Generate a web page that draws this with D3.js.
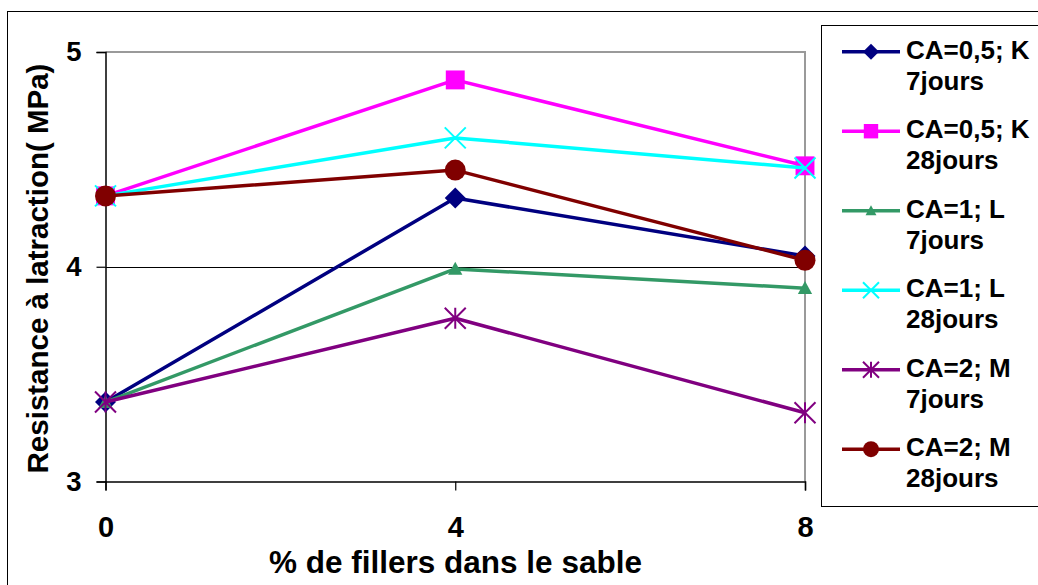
<!DOCTYPE html>
<html>
<head>
<meta charset="utf-8">
<script src="https://cdn.jsdelivr.net/npm/d3@7"></script>
<style>
  html, body { margin: 0; padding: 0; background: #fff; }
  svg { display: block; font-family: "Liberation Sans", Arial, sans-serif; font-weight: bold; }
</style>
</head>
<body>
<svg id="chart" width="1038" height="585"></svg>
<script>
// Filler content (% in sand) on the x axis
const fillers = [0, 4, 8];
const yTicks = [3, 4, 5];

// Tensile strength (MPa) per mix
const k7  = [3.37, 4.32, 4.05];
const k28 = [4.33, 4.87, 4.47];
const l7  = [3.37, 3.99, 3.90];
const l28 = [4.33, 4.60, 4.46];
const m7  = [3.37, 3.76, 3.32];
const m28 = [4.33, 4.45, 4.03];

const seriesNames = [
  ["CA=0,5; K", "7jours"],
  ["CA=0,5; K", "28jours"],
  ["CA=1; L", "7jours"],
  ["CA=1; L", "28jours"],
  ["CA=2; M", "7jours"],
  ["CA=2; M", "28jours"]
];
const seriesValues = [k7, k28, l7, l28, m7, m28];
const seriesColors = ["#000080", "#FF00FF", "#339966", "#00FFFF", "#800080", "#800000"];
const seriesMarkers = ["diamond", "square", "triangle", "cross", "star", "circle"];

const svg = d3.select("#chart");

const x = d3.scaleLinear().domain([0, 8]).range([105.5, 805]);
const y = d3.scaleLinear().domain([3, 5]).range([481.5, 52]);

// Outer chart frame
svg.append("rect")
  .attr("x", 7.5).attr("y", 11.5)
  .attr("width", 1100).attr("height", 700)
  .attr("fill", "none").attr("stroke", "#000").attr("stroke-width", 1);

// Gridline at 4
svg.append("line")
  .attr("x1", x(0)).attr("x2", x(8))
  .attr("y1", Math.round(y(4)) + 0.5).attr("y2", Math.round(y(4)) + 0.5)
  .attr("stroke", "#000").attr("stroke-width", 1);

// Plot area border (top and right)
svg.append("path")
  .attr("d", `M${x(0)},${y(5)}H${x(8)}V${y(3)}`)
  .attr("fill", "none").attr("stroke", "#9a9a9a").attr("stroke-width", 2);

// Y axis
const yAxis = svg.append("g")
  .attr("transform", `translate(${x(0)},0)`)
  .call(d3.axisLeft(y).tickValues(yTicks).tickSize(9).tickPadding(15).tickFormat(d3.format("d")));
yAxis.select(".domain").attr("stroke", "#000").attr("stroke-width", 1.5);
yAxis.selectAll(".tick line").attr("stroke", "#000").attr("stroke-width", 1.2);
yAxis.selectAll("text").attr("font-size", 27.5).attr("font-weight", "bold")
  .attr("font-family", "Liberation Sans, Arial, sans-serif").attr("fill", "#000");

// X axis
const xAxis = svg.append("g")
  .attr("transform", `translate(0,${y(3)})`)
  .call(d3.axisBottom(x).tickValues(fillers).tickSize(9).tickPadding(26).tickFormat(d3.format("d")));
xAxis.select(".domain").attr("stroke", "#000").attr("stroke-width", 1.5);
xAxis.selectAll(".tick line").attr("stroke", "#000").attr("stroke-width", 1.2);
xAxis.selectAll("text").attr("font-size", 29).attr("font-weight", "bold")
  .attr("font-family", "Liberation Sans, Arial, sans-serif").attr("fill", "#000");

// Axis titles
svg.append("text")
  .attr("x", 455.5).attr("y", 573)
  .attr("text-anchor", "middle").attr("font-size", 31.5)
  .text("% de fillers dans le sable");

svg.append("text")
  .attr("transform", "translate(48,268.5) rotate(-90)")
  .attr("text-anchor", "middle").attr("font-size", 29.5)
  .text("Resistance à latraction( MPa)");

// Marker drawing
function drawMarker(g, type, cx, cy, color, s) {
  const h = s / 2;
  if (type === "diamond") {
    g.append("path").attr("d", `M${cx},${cy - h}L${cx + h},${cy}L${cx},${cy + h}L${cx - h},${cy}Z`)
      .attr("fill", color);
  } else if (type === "square") {
    const a = s * 0.9 / 2;
    g.append("rect").attr("x", cx - a).attr("y", cy - a).attr("width", 2 * a).attr("height", 2 * a)
      .attr("fill", color);
  } else if (type === "triangle") {
    const w = s * 0.68 / 2, t = s * 0.62;
    g.append("path").attr("d", `M${cx},${cy - t * 0.55}L${cx + w},${cy + t * 0.45}L${cx - w},${cy + t * 0.45}Z`)
      .attr("fill", color);
  } else if (type === "cross") {
    g.append("path").attr("d", `M${cx - h},${cy - h}L${cx + h},${cy + h}M${cx - h},${cy + h}L${cx + h},${cy - h}`)
      .attr("stroke", color).attr("stroke-width", 2).attr("fill", "none");
  } else if (type === "star") {
    g.append("path").attr("d", `M${cx - h},${cy - h}L${cx + h},${cy + h}M${cx - h},${cy + h}L${cx + h},${cy - h}M${cx},${cy - h}L${cx},${cy + h}`)
      .attr("stroke", color).attr("stroke-width", 2).attr("fill", "none");
  } else if (type === "circle") {
    g.append("circle").attr("cx", cx).attr("cy", cy).attr("r", h).attr("fill", color);
  }
}

// Series lines and markers
const line = d3.line().x((d, i) => x(fillers[i])).y(d => y(d));
seriesValues.forEach((vals, si) => {
  const g = svg.append("g");
  g.append("path").datum(vals).attr("d", line)
    .attr("fill", "none").attr("stroke", seriesColors[si]).attr("stroke-width", 3.5)
    .attr("stroke-linejoin", "round");
  vals.forEach((v, i) => drawMarker(g, seriesMarkers[si], x(fillers[i]), y(v), seriesColors[si], 21));
});

// Legend
const lg = svg.append("g");
lg.append("rect")
  .attr("x", 821.5).attr("y", 25.5).attr("width", 300).attr("height", 481)
  .attr("fill", "#fff").attr("stroke", "#000").attr("stroke-width", 1);
seriesNames.forEach((name, i) => {
  const cy = 51.7 + i * 79.5;
  lg.append("line").attr("x1", 842).attr("x2", 900).attr("y1", cy).attr("y2", cy)
    .attr("stroke", seriesColors[i]).attr("stroke-width", 3.5);
  drawMarker(lg, seriesMarkers[i], 871, cy, seriesColors[i], 16);
  const t = lg.append("text").attr("x", 906).attr("font-size", 26);
  t.append("tspan").attr("x", 906).attr("y", cy + 7).text(name[0]);
  t.append("tspan").attr("x", 906).attr("y", cy + 37.8).text(name[1]);
});
</script>
</body>
</html>
